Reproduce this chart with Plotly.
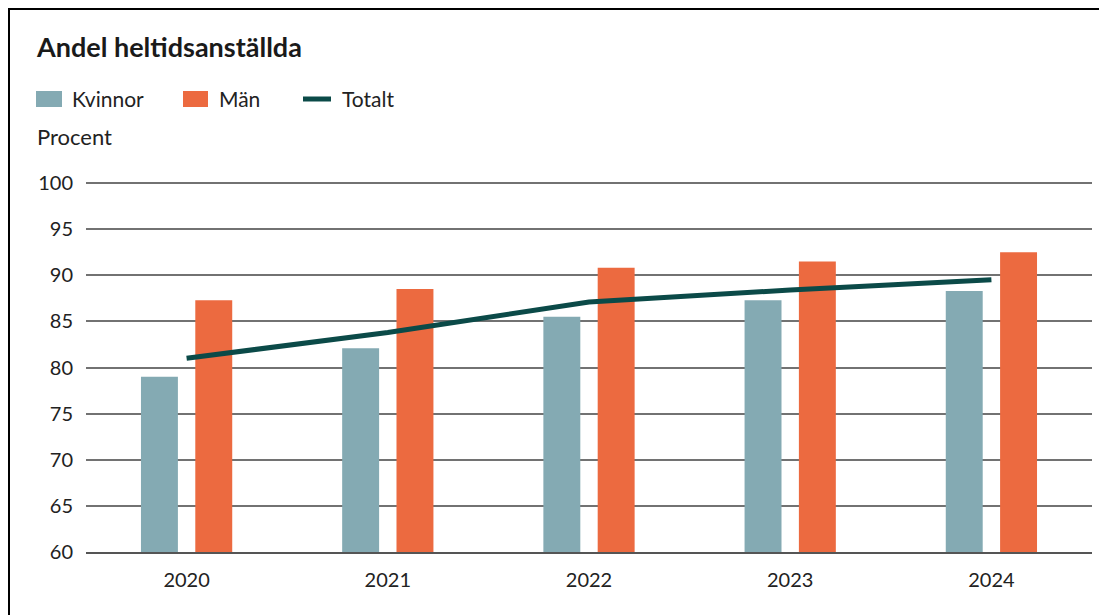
import plotly.graph_objects as go

years = ["2020", "2021", "2022", "2023", "2024"]
kvinnor = [79.0, 82.1, 85.5, 87.3, 88.3]
man = [87.3, 88.5, 90.8, 91.5, 92.5]
totalt = [81.0, 83.8, 87.1, 88.4, 89.5]
y_ticks = [60, 65, 70, 75, 80, 85, 90, 95, 100]

C_KV = "#84aab3"
C_MAN = "#ec6a40"
C_TOT = "#0b4a48"
FONT = "Lato, 'Open Sans', sans-serif"
TEXT = "#222222"

# page body has an 8px margin, so the figure sits at (8, 8) in the window
W, H = 1099, 607
# plot area in window pixels; top kept 2px above the 100 line so its grid line is drawn
PL, PR, PT, PB = 86, 1092, 181, 552
Y_TOP = 60 + 40 * (PB - PT) / 369


def px(x):
    return (x - PL) / (PR - PL)


def py(y):
    return (PB - y) / (PB - PT)


fig = go.Figure()
fig.add_trace(go.Bar(x=years, y=kvinnor, name="Kvinnor",
                     marker=dict(color=C_KV, line=dict(width=0))))
fig.add_trace(go.Bar(x=years, y=man, name="Män",
                     marker=dict(color=C_MAN, line=dict(width=0))))
fig.add_trace(go.Scatter(x=years, y=totalt, name="Totalt", mode="lines",
                         line=dict(color=C_TOT, width=5)))

fig.update_layout(
    width=W, height=H,
    paper_bgcolor="white", plot_bgcolor="white",
    margin=dict(l=PL - 8, r=W - (PR - 8), t=PT - 8, b=H - (PB - 8)),
    font=dict(family=FONT, size=21, color=TEXT),
    barmode="group", bargap=0.46, bargroupgap=0.32,
    title=dict(text="<b>Andel heltidsanställda</b>", xref="container", yref="container",
               x=(37 - 8) / W, y=1 - (48 - 8) / H, xanchor="left", yanchor="middle",
               font=dict(size=27, color="#1a1a1a")),
    showlegend=False,
)
fig.update_xaxes(showgrid=False, showline=True, linecolor="#555555", linewidth=2,
                 ticks="", ticklabelstandoff=9, tickfont=dict(size=20))
fig.update_yaxes(range=[60, Y_TOP], tickvals=y_ticks, showgrid=True,
                 gridcolor="#727272", gridwidth=1.5, zeroline=False,
                 ticks="", ticklabelstandoff=12, tickfont=dict(size=20))

# legend
fig.add_shape(type="rect", xref="paper", yref="paper",
              x0=px(36), x1=px(62), y0=py(107), y1=py(91),
              fillcolor=C_KV, line=dict(width=0))
fig.add_shape(type="rect", xref="paper", yref="paper",
              x0=px(183), x1=px(208), y0=py(107), y1=py(91),
              fillcolor=C_MAN, line=dict(width=0))
fig.add_shape(type="line", xref="paper", yref="paper",
              x0=px(303), x1=px(331), y0=py(99), y1=py(99),
              line=dict(color=C_TOT, width=5))
for label, lx in [("Kvinnor", 70), ("Män", 217), ("Totalt", 340)]:
    fig.add_annotation(text=label, xref="paper", yref="paper", x=px(lx), y=py(99),
                       xanchor="left", yanchor="middle", showarrow=False,
                       font=dict(size=21))

fig.add_annotation(text="Procent", xref="paper", yref="paper",
                   x=px(35), y=py(137), xanchor="left", yanchor="middle",
                   showarrow=False, font=dict(size=22))

# frame around the whole figure
fig.add_shape(type="rect", xref="paper", yref="paper",
              x0=px(9), x1=px(1104), y0=-0.3, y1=py(9),
              line=dict(color="black", width=2), fillcolor="rgba(0,0,0,0)")

fig.write_html("out.html")
